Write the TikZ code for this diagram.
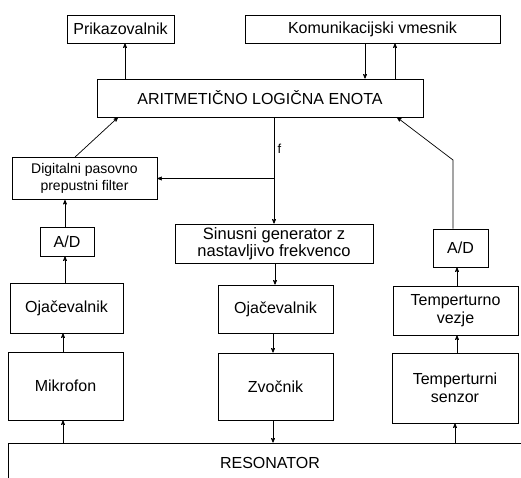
\documentclass[tikz,border=0pt]{standalone}
\usepackage{fontspec}
\setmainfont{Liberation Sans}
\usetikzlibrary{arrows}
\tikzset{
  blok/.style={draw,line width=0.8pt,inner sep=0pt,align=center,font=\fontsize{16}{18}\selectfont},
  pov/.style={->,line width=0.7pt},
}
\begin{document}
\begin{tikzpicture}[x=1pt,y=-1pt,>=stealth']
\useasboundingbox (0,0) rectangle (521,477);
\clip (0,0) rectangle (521,477);
\node[blok,minimum width=107pt,minimum height=28pt](prik) at (120.5,29){Prikazovalnik};
\node[blok,minimum width=255pt,minimum height=28pt](komun) at (372.5,29){Komunikacijski vmesnik};
\node[blok,minimum width=326pt,minimum height=38pt](alu) at (260,98){ARITMETIČNO LOGIČNA ENOTA};
%
\node[blok,minimum width=145pt,minimum height=42pt,font=\fontsize{14}{17}\selectfont](filt) at (84.5,178.5){Digitalni pasovno\\prepustni filter};
\node[blok,minimum width=54pt,minimum height=29pt](adl) at (67,241.5){A/D};
\node[blok,minimum width=113pt,minimum height=50pt](ojl) at (66.5,308){Ojačevalnik};
\node[blok,minimum width=115pt,minimum height=68pt](mik) at (65.5,386){Mikrofon};
%
\node[blok,minimum width=198pt,minimum height=39pt,font=\fontsize{16.5}{17}\selectfont](sin) at (274,243.5){Sinusni generator z\\nastavljivo frekvenco};
\node[blok,minimum width=115pt,minimum height=48pt](ojm) at (275.5,309){Ojačevalnik};
\node[blok,minimum width=115pt,minimum height=67pt](zvo) at (275.5,386.5){Zvočnik};
%
\node[blok,minimum width=55pt,minimum height=38pt](adr) at (460.5,248){A/D};
\node[blok,minimum width=125pt,minimum height=49pt](tvez) at (455.5,310.5){Temperturno\\vezje};
\node[blok,minimum width=126pt,minimum height=70pt](tsen) at (455,388){Temperturni\\senzor};
%
\node[blok,minimum width=524pt,minimum height=40pt](reso) at (270,463){RESONATOR};
%
\draw[pov](alu.north -| 125,0)--(prik.south -| 125,0);
\draw[pov](komun.south -| 365,0)--(alu.north -| 365,0);
\draw[pov](alu.north -| 395,0)--(komun.south -| 395,0);
\draw[pov](filt.north -| 75,0)--(alu.south -| 118,0);
\draw[pov](alu.south -| sin.north)--(sin.north) node[pos=0.3,right,font=\fontsize{13}{15}\selectfont]{f};
\coordinate(razcep) at (sin.north |- filt.east);
\draw[pov](razcep)--(filt.east);
\draw[pov](adl.north -| 65,0)--(filt.south -| 65,0);
\draw[pov](ojl.north -| 65,0)--(adl.south -| 65,0);
\draw[pov](mik.north -| 63,0)--(ojl.south -| 63,0);
\draw[pov](reso.north -| 63,0)--(mik.south -| 63,0);
%
\draw[pov](sin.south -| 275,0)--(ojm.north -| 275,0);
\draw[pov](ojm.south -| 273,0)--(zvo.north -| 273,0);
\draw[pov](zvo.south -| 273,0)--(reso.north -| 273,0);
%
\draw[pov](reso.north -| 455,0)--(tsen.south -| 455,0);
\draw[pov](tsen.north -| 457,0)--(tvez.south -| 457,0);
\draw[pov](tvez.north -| 457,0)--(adr.south -| 457,0);
\coordinate(lom) at (453,160);
\draw[pov](adr.north -| lom)--(lom)--(alu.south -| 397,0);
\end{tikzpicture}
\end{document}
